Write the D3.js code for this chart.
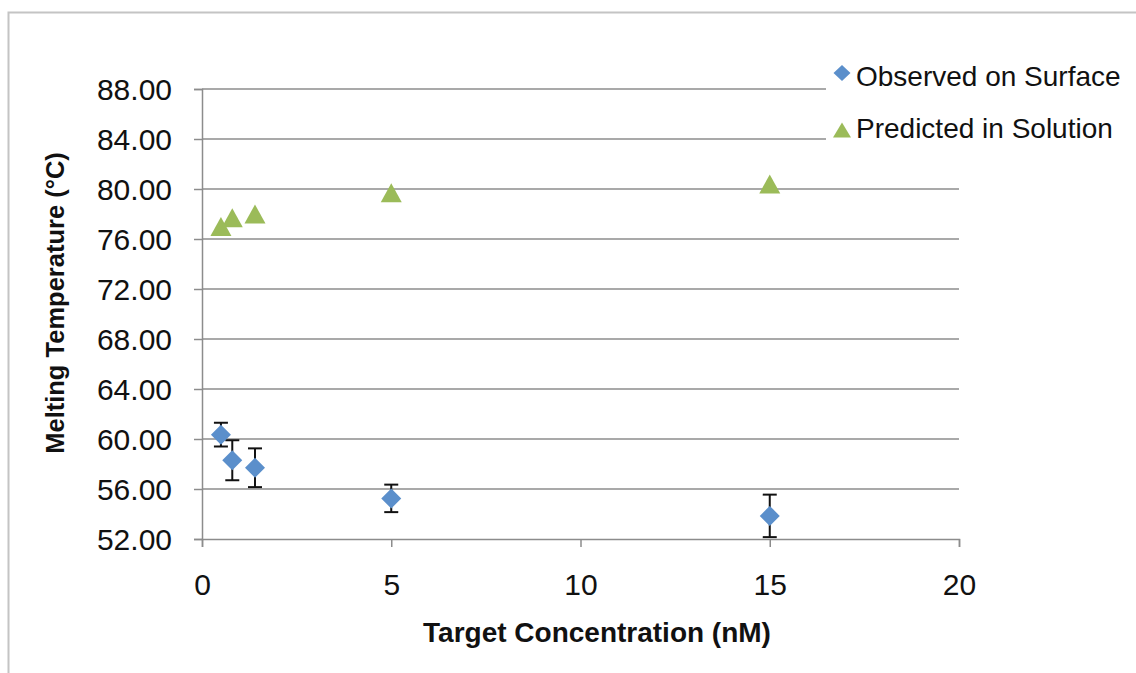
<!DOCTYPE html>
<html>
<head>
<meta charset="utf-8">
<script src="https://cdn.jsdelivr.net/npm/d3@7"></script>
<style>
  html, body { margin: 0; padding: 0; background: #fff; }
  svg { display: block; font-family: "Liberation Sans", Arial, sans-serif; }
</style>
</head>
<body>
<svg id="chart" width="1136" height="673"></svg>
<script>
// Target concentrations (nM)
const concentrations = [0.5, 0.8, 1.4, 5, 15];
// Melting temperatures (°C)
const observedTm = [60.35, 58.3, 57.7, 55.25, 53.85];
const observedErr = [0.95, 1.6, 1.55, 1.1, 1.7];
const predictedTm = [77.0, 77.7, 78.0, 79.7, 80.4];

const seriesNames = ["Observed on Surface", "Predicted in Solution"];
const yTicks = [52, 56, 60, 64, 68, 72, 76, 80, 84, 88];
const xTicks = [0, 5, 10, 15, 20];

const blue = "#5B8FCB";
const green = "#9BBB59";
const gridColor = "#8c8c8c";
const font = "'Liberation Sans', Arial, sans-serif";

const svg = d3.select("#chart");

// outer chart frame
svg.append("rect")
  .attr("x", 8.5).attr("y", 12.5)
  .attr("width", 1140).attr("height", 680)
  .attr("fill", "none").attr("stroke", "#c4c4c4").attr("stroke-width", 2);

const x = d3.scaleLinear().domain([0, 20]).range([202, 959]);
const y = d3.scaleLinear().domain([52, 88]).range([539, 89]);

// horizontal gridlines
svg.append("g")
  .selectAll("line")
  .data(yTicks.filter(v => v !== 52))
  .join("line")
  .attr("x1", x(0)).attr("x2", x(20))
  .attr("y1", d => y(d)).attr("y2", d => y(d))
  .attr("stroke", gridColor).attr("stroke-width", 1.5);

// y axis
const yAxis = d3.axisLeft(y).tickValues(yTicks).tickFormat(d3.format(".2f")).tickSize(8).tickPadding(22);
const gy = svg.append("g").attr("transform", `translate(${x(0)},0)`).call(yAxis);
gy.select(".domain").attr("stroke", gridColor).attr("stroke-width", 1.5);
gy.selectAll(".tick line").attr("stroke", gridColor).attr("stroke-width", 1.5);
gy.selectAll(".tick text").attr("font-size", 30).attr("fill", "#111")
  .attr("font-family", font).attr("dy", "0.36em");

// x axis
const xAxis = d3.axisBottom(x).tickValues(xTicks).tickFormat(d3.format("d")).tickSize(8).tickPadding(27);
const gx = svg.append("g").attr("transform", `translate(0,${y(52)})`).call(xAxis);
gx.select(".domain").attr("stroke", gridColor).attr("stroke-width", 1.5);
gx.selectAll(".tick line").attr("stroke", gridColor).attr("stroke-width", 1.5);
gx.selectAll(".tick text").attr("font-size", 30).attr("fill", "#111")
  .attr("font-family", font);

// axis titles
svg.append("text")
  .attr("x", 597).attr("y", 642)
  .attr("text-anchor", "middle")
  .attr("font-size", 28).attr("font-weight", "bold").attr("fill", "#111")
  .text("Target Concentration (nM)");

svg.append("text")
  .attr("transform", `translate(64,303) rotate(-90)`)
  .attr("text-anchor", "middle")
  .attr("font-size", 25.5).attr("font-weight", "bold").attr("fill", "#111")
  .text("Melting Temperature (°C)");

// triangle marker centred on its bounding box
const triangle = (cx, cy, w, h) =>
  `M${cx},${cy - h / 2}L${cx + w / 2},${cy + h / 2}L${cx - w / 2},${cy + h / 2}Z`;
const diamond = (cx, cy, rx, ry) =>
  `M${cx},${cy - ry}L${cx + rx},${cy}L${cx},${cy + ry}L${cx - rx},${cy}Z`;

// predicted triangles
svg.append("g")
  .selectAll("path")
  .data(concentrations.map((c, i) => ({ c, t: predictedTm[i] })))
  .join("path")
  .attr("d", d => triangle(x(d.c), y(d.t), 21, 19))
  .attr("fill", green);

// observed error bars
const errG = svg.append("g").attr("stroke", "#111").attr("stroke-width", 2);
concentrations.forEach((c, i) => {
  const cx = x(c), lo = y(observedTm[i] - observedErr[i]), hi = y(observedTm[i] + observedErr[i]);
  errG.append("line").attr("x1", cx).attr("x2", cx).attr("y1", lo).attr("y2", hi);
  errG.append("line").attr("x1", cx - 7).attr("x2", cx + 7).attr("y1", lo).attr("y2", lo);
  errG.append("line").attr("x1", cx - 7).attr("x2", cx + 7).attr("y1", hi).attr("y2", hi);
});

// observed diamonds
svg.append("g")
  .selectAll("path")
  .data(concentrations.map((c, i) => ({ c, t: observedTm[i] })))
  .join("path")
  .attr("d", d => diamond(x(d.c), y(d.t), 10, 10))
  .attr("fill", blue);

// legend
const legend = svg.append("g");
legend.append("rect").attr("x", 826).attr("y", 55).attr("width", 306).attr("height", 100).attr("fill", "#fff");
legend.append("path").attr("d", diamond(842, 73, 8.5, 8)).attr("fill", blue);
legend.append("path").attr("d", triangle(842, 130, 18, 15)).attr("fill", green);
legend.selectAll("text")
  .data(seriesNames)
  .join("text")
  .attr("x", 856)
  .attr("y", (d, i) => 86 + i * 52)
  .attr("font-size", 28).attr("fill", "#111")
  .attr("font-family", font)
  .text(d => d);
</script>
</body>
</html>
